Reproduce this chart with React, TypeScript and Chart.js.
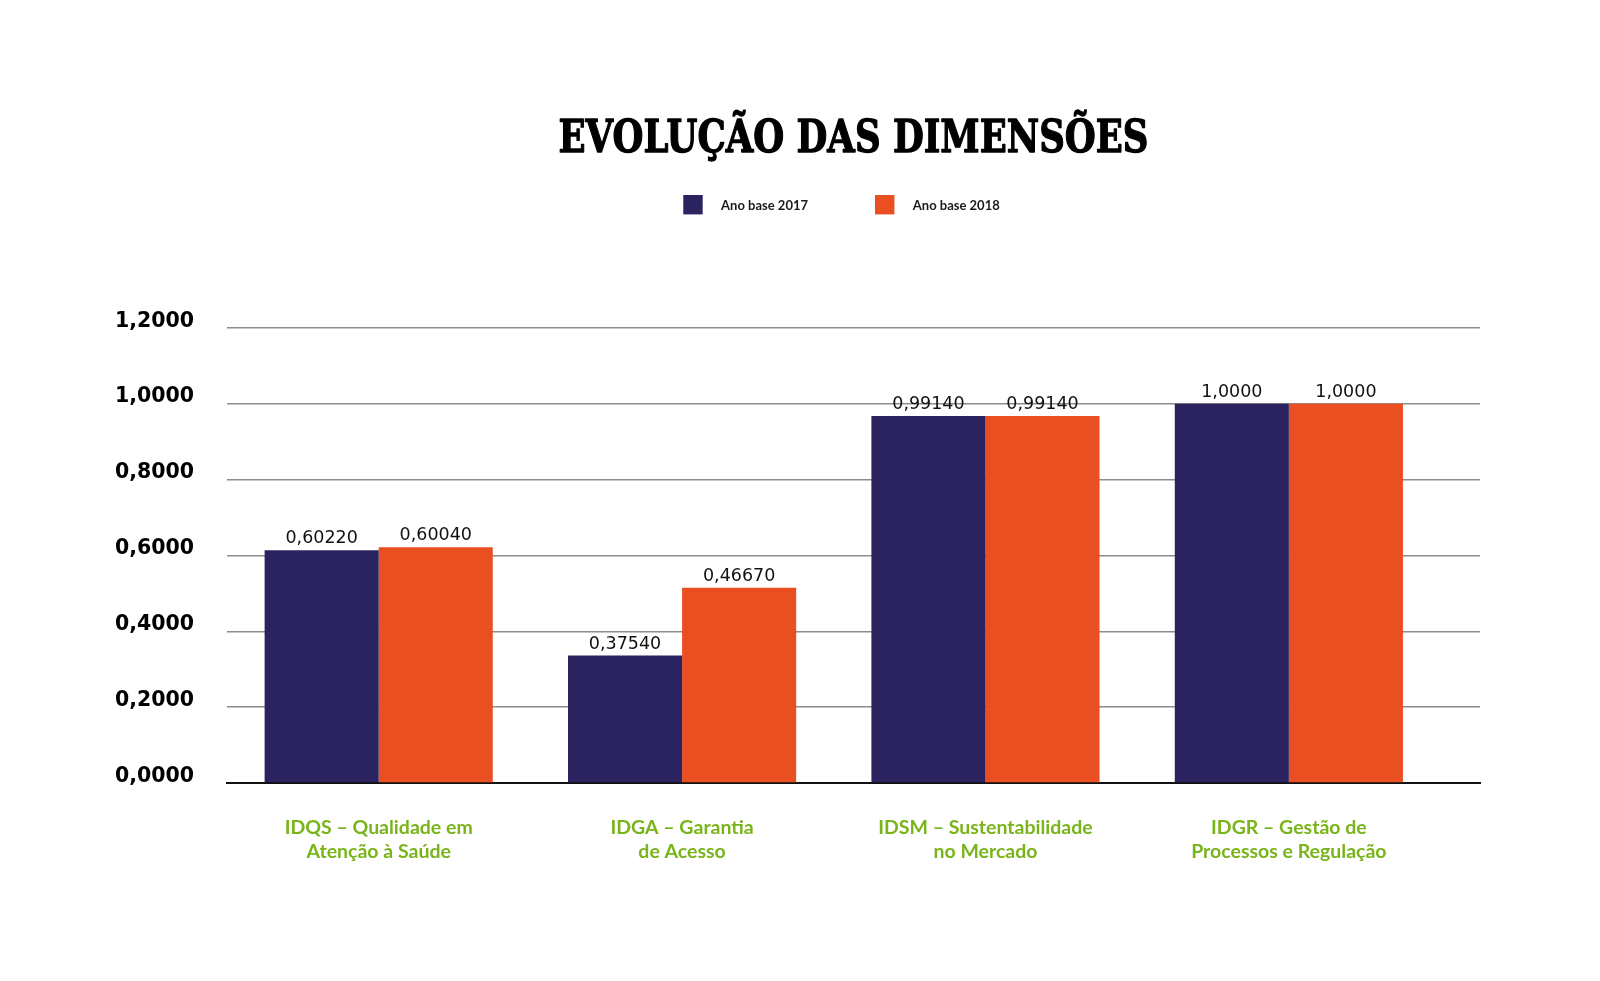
import React, { useEffect, useRef } from "react";
import { Chart, registerables } from "chart.js";

Chart.register(...registerables);

const TITLE = "EVOLUÇÃO DAS DIMENSÕES";
const SERIES_NAMES = ["Ano base 2017", "Ano base 2018"];
const CATEGORIES: string[][] = [
  ["IDQS – Qualidade em", "Atenção à Saúde"],
  ["IDGA – Garantia", "de Acesso"],
  ["IDSM – Sustentabilidade", "no Mercado"],
  ["IDGR – Gestão de", "Processos e Regulação"],
];
// bar heights as drawn in the picture
const SERIES_2017 = [0.614, 0.336, 0.968, 1.0];
const SERIES_2018 = [0.622, 0.515, 0.968, 1.0];
// value labels as printed above the bars
const LABELS_2017 = ["0,60220", "0,37540", "0,99140", "1,0000"];
const LABELS_2018 = ["0,60040", "0,46670", "0,99140", "1,0000"];
const VALUE_LABELS = [LABELS_2017, LABELS_2018];
const Y_MIN = 0;
const Y_MAX = 1.2;
const Y_STEP = 0.2;

const NAVY = "#2a2360";
const ORANGE = "#e94f20";
const GREEN = "#78b41a";
const COLORS = [NAVY, ORANGE];

const overlayPlugin = {
  id: "overlay",
  afterDatasetsDraw(chart: any) {
    const ctx = chart.ctx;
    ctx.save();
    ctx.fillStyle = "#111";
    ctx.font = '17.5px "DejaVu Sans"';
    ctx.textAlign = "center";
    ctx.textBaseline = "alphabetic";
    chart.data.datasets.forEach((_ds: any, di: number) => {
      const meta = chart.getDatasetMeta(di);
      meta.data.forEach((bar: any, i: number) => {
        ctx.fillText(VALUE_LABELS[di][i], bar.x, bar.y - 7);
      });
    });
    ctx.restore();
  },
  afterDraw(chart: any) {
    const ctx = chart.ctx;
    const area = chart.chartArea;
    const cx = (area.left + area.right) / 2;

    // title: slab serif, compressed horizontally to the reference width
    ctx.save();
    ctx.fillStyle = "#000";
    ctx.strokeStyle = "#000";
    ctx.lineWidth = 1.3;
    ctx.lineJoin = "round";
    ctx.font = 'bold 45px "DejaVu Serif"';
    ctx.textAlign = "center";
    ctx.textBaseline = "middle";
    const w = ctx.measureText(TITLE).width;
    const target = 590;
    const sx = target / w;
    ctx.translate(cx, 140);
    ctx.scale(sx, 1);
    ctx.fillText(TITLE, 0, 0);
    ctx.strokeText(TITLE, 0, 0);
    ctx.restore();

    // legend
    ctx.save();
    ctx.font = 'bold 13px "Lato"';
    const box = 19.4;
    const gapText = 18.4;
    const gapItem = 67;
    const widths = SERIES_NAMES.map((n) => ctx.measureText(n).width);
    const total = widths.reduce((a, wd) => a + box + gapText + wd, 0) + gapItem * (SERIES_NAMES.length - 1);
    let x = cx - 12 - total / 2;
    const y = 195;
    ctx.textAlign = "left";
    ctx.textBaseline = "middle";
    SERIES_NAMES.forEach((n, i) => {
      ctx.fillStyle = COLORS[i];
      ctx.fillRect(x, y, box, box);
      ctx.fillStyle = "#1a1a1a";
      ctx.fillText(n, x + box + gapText, y + box / 2 + 1);
      x += box + gapText + widths[i] + gapItem;
    });
    ctx.restore();
  },
};

export default function App() {
  const ref = useRef<HTMLCanvasElement | null>(null);
  useEffect(() => {
    if (!ref.current) return;
    const chart = new Chart(ref.current, {
      type: "bar",
      data: {
        datasets: [SERIES_2017, SERIES_2018].map((s, di) => ({
          label: SERIES_NAMES[di],
          data: s.map((v, i) => ({ x: i, y: v })),
          backgroundColor: COLORS[di],
          borderWidth: 0,
          barPercentage: 1,
          categoryPercentage: 0.752,
        })),
      },
      options: {
        animation: false,
        responsive: false,
        devicePixelRatio: 1,
        layout: { padding: { left: 115, right: 120, top: 328, bottom: 98 } },
        plugins: {
          legend: { display: false },
          title: { display: false },
          tooltip: { enabled: false },
        },
        scales: {
          x: {
            type: "linear",
            offset: false,
            min: -0.5,
            max: 3.63,
            grid: { display: false, drawTicks: false, tickLength: 0, offset: false },
            border: { display: true, color: "#111", width: 2 },
            afterBuildTicks: (scale: any) => {
              scale.ticks = CATEGORIES.map((_c, i) => ({ value: i }));
            },
            afterFit: (scale: any) => {
              scale.height = 100;
              scale.paddingLeft = 0;
              scale.paddingRight = 0;
            },
            ticks: {
              autoSkip: false,
              maxRotation: 0,
              minRotation: 0,
              padding: 32,
              color: GREEN,
              font: { family: "Lato", size: 19.5, weight: "bold", lineHeight: 1.256 },
              callback: (v: any) => CATEGORIES[Math.round(Number(v))] || "",
            },
          },
          y: {
            min: Y_MIN,
            max: Y_MAX,
            grid: { color: "#8c8c8c", lineWidth: 1.5, drawTicks: false, tickLength: 0 },
            border: { display: false },
            afterFit: (scale: any) => {
              scale.width = 112;
              scale.paddingTop = 0;
              scale.paddingBottom = 0;
            },
            ticks: {
              stepSize: Y_STEP,
              crossAlign: "far",
              color: "#000",
              font: { family: "DejaVu Sans", size: 20.5, weight: "bold", lineHeight: 0.65 },
              callback: (v: any) => [Number(v).toFixed(4).replace(".", ","), ""],
            },
          },
        },
      } as any,
      plugins: [overlayPlugin],
    });
    return () => chart.destroy();
  }, []);
  return (
    <div style={{ position: "fixed", left: 0, top: 0, width: 1600, height: 981, background: "#fff" }}>
      <canvas ref={ref} width={1600} height={981} style={{ width: 1600, height: 981, display: "block" }} />
    </div>
  );
}
